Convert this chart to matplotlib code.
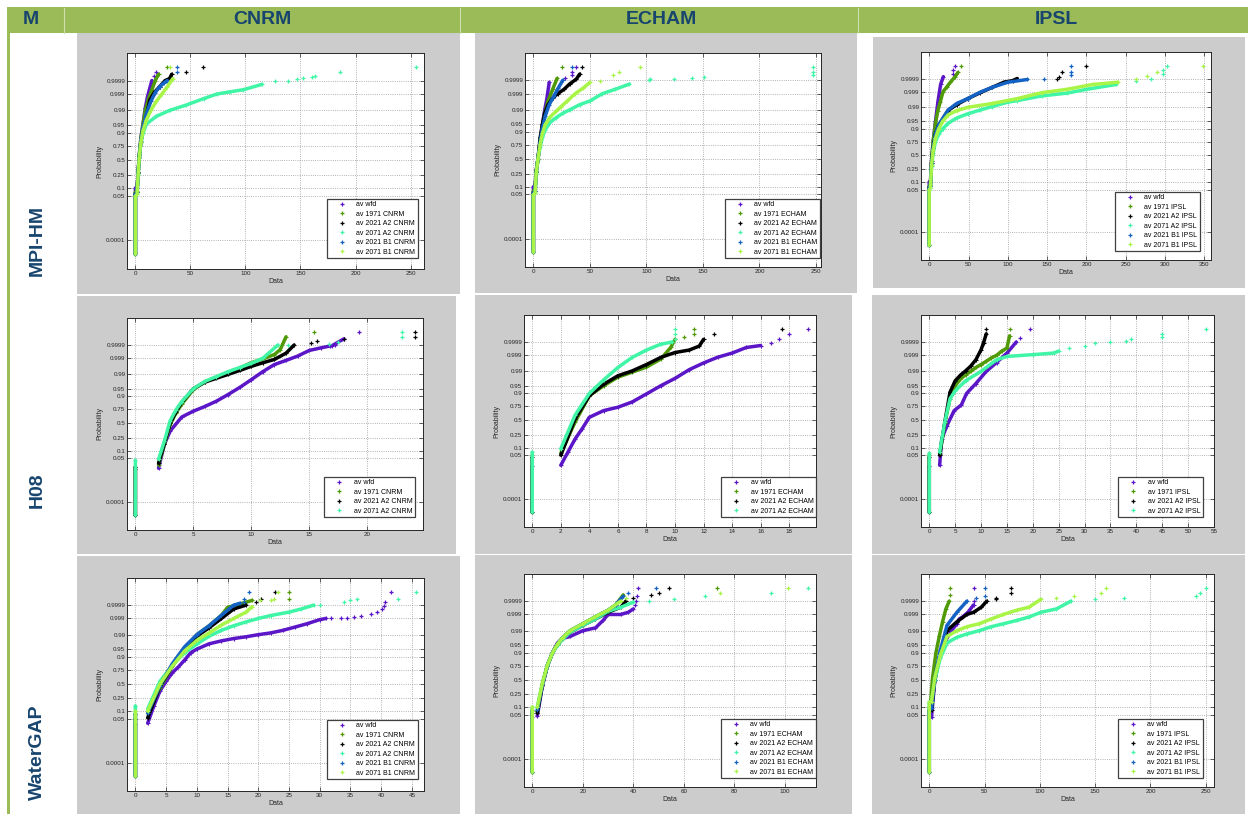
import math
from statistics import NormalDist

import numpy as np
import matplotlib
matplotlib.use("Agg")
import matplotlib.pyplot as plt
from matplotlib.patches import Rectangle
from matplotlib.lines import Line2D
from matplotlib.ticker import MultipleLocator

nan = np.nan

# each series: (x, p, tail_x, tail_p); x/p is drawn as a dense curve (nan splits the
# zero column from the rest), the tail as loose markers
mpihm_cnrm = {
    "wfd": ([0, 0, nan, 1.5, 2.5, 3.5, 5, 7, 9, 11, 13, 15],
            [7e-6, 0.1, nan, 0.1, 0.3, 0.6, 0.85, 0.96, 0.993, 0.9985, 0.9996, 0.9999],
            [17, 19], [0.99996, 0.99998]),
    "1971": ([0, 0, nan, 1.5, 2.5, 3.5, 5, 7, 9, 12, 15, 18, 21],
             [7e-6, 0.07, nan, 0.08, 0.3, 0.6, 0.85, 0.955, 0.99, 0.998, 0.9995, 0.9999, 0.99997],
             [28.5], [0.999993]),
    "2021 A2": ([0, 0, nan, 1.5, 2.5, 3.5, 5, 7, 10, 13, 17, 22, 27, 31, 33],
                [7e-6, 0.06, nan, 0.07, 0.28, 0.55, 0.8, 0.93, 0.98, 0.9975, 0.9992, 0.9997, 0.9999, 0.99993, 0.99997],
                [45.6, 61.7], [0.99998, 0.999993]),
    "2071 A2": ([0, 0, nan, 1.5, 2.5, 3.5, 5, 7, 10, 19, 31, 46, 62, 74, 86, 98, 115],
                [7e-6, 0.05, nan, 0.06, 0.25, 0.55, 0.8, 0.9, 0.955, 0.98, 0.99, 0.995, 0.998, 0.999, 0.9993, 0.9995, 0.9998],
                [127, 138.5, 146.7, 152, 160.4, 163.4, 186, 254.6],
                [0.99989, 0.9999, 0.99992, 0.99994, 0.99995, 0.99996, 0.99998, 0.999993]),
    "2021 B1": ([0, 0, nan, 1.5, 2.5, 3.5, 5, 7, 10, 14, 18, 22, 26, 29],
                [7e-6, 0.06, nan, 0.07, 0.28, 0.56, 0.82, 0.94, 0.985, 0.997, 0.9992, 0.9997, 0.99985, 0.9999],
                [38, 38], [0.99998, 0.999993]),
    "2071 B1": ([0, 0, nan, 1.5, 2.5, 3.5, 5, 7, 10, 14, 19, 24, 29, 34],
                [7e-6, 0.05, nan, 0.06, 0.26, 0.55, 0.8, 0.92, 0.97, 0.99, 0.997, 0.999, 0.9997, 0.99993],
                [31], [0.999993]),
}

mpihm_echam = {
    "wfd": ([0, 0, nan, 1.5, 2.5, 4, 6, 8, 10, 12, 14],
            [7e-6, 0.1, nan, 0.1, 0.3, 0.5, 0.8, 0.95, 0.99, 0.998, 0.99985],
            [28, 34.6, 34.6, 38], [0.99994, 0.99996, 0.99998, 0.999993]),
    "1971": ([0, 0, nan, 1.5, 2.5, 4, 6, 8, 10, 13, 17, 21],
             [7e-6, 0.07, nan, 0.08, 0.3, 0.5, 0.8, 0.94, 0.985, 0.997, 0.9995, 0.99993],
             [25], [0.999993]),
    "2021 A2": ([0, 0, nan, 1.5, 2.5, 4, 6, 8, 10, 13, 17, 21.5, 27, 32, 38, 41],
                [7e-6, 0.06, nan, 0.07, 0.28, 0.5, 0.85, 0.95, 0.985, 0.995, 0.998, 0.999, 0.9995, 0.9998, 0.99992, 0.99997],
                [43.3], [0.999993]),
    "2071 A2": ([0, 0, nan, 1.5, 2.5, 4, 6, 8, 10.5, 15, 20, 26, 32, 41, 50, 61, 72, 85],
                [7e-6, 0.05, nan, 0.06, 0.25, 0.5, 0.72, 0.85, 0.92, 0.96, 0.975, 0.985, 0.99, 0.995, 0.997, 0.999, 0.9995, 0.9998],
                [102, 103, 124, 140, 150.6, 247, 247, 247],
                [0.9999, 0.99992, 0.99992, 0.99994, 0.99995, 0.99996, 0.99998, 0.999993]),
    "2021 B1": ([0, 0, nan, 1.5, 2.5, 4, 6, 8, 10.5, 14, 18, 22, 26],
                [7e-6, 0.06, nan, 0.07, 0.28, 0.5, 0.8, 0.93, 0.98, 0.995, 0.9985, 0.9996, 0.9999],
                [34], [0.999993]),
    "2071 B1": ([0, 0, nan, 1.5, 2.5, 4, 6, 8, 10.5, 15, 20, 24, 30, 37, 44, 50],
                [7e-6, 0.05, nan, 0.06, 0.26, 0.5, 0.76, 0.89, 0.95, 0.978, 0.988, 0.993, 0.997, 0.999, 0.9996, 0.99985],
                [58.7, 70, 76, 94], [0.99988, 0.99996, 0.99998, 0.999993]),
}

mpihm_ipsl = {
    "wfd": ([0, 0, nan, 1.5, 3, 5, 8, 11, 14.5, 18],
            [7e-6, 0.1, nan, 0.1, 0.4, 0.75, 0.95, 0.995, 0.9997, 0.99993],
            [30, 30, 33], [0.99996, 0.99998, 0.999993]),
    "1971": ([0, 0, nan, 1.5, 3, 5, 8, 11, 14, 17.6, 22, 27, 33, 36.5],
             [7e-6, 0.07, nan, 0.08, 0.4, 0.75, 0.94, 0.985, 0.995, 0.999, 0.9995, 0.9998, 0.99993, 0.99997],
             [40], [0.999993]),
    "2021 A2": ([0, 0, nan, 1.5, 3, 5, 8, 12, 17, 24, 35, 49, 65, 80, 95, 106, 112],
                [7e-6, 0.06, nan, 0.07, 0.35, 0.65, 0.85, 0.93, 0.96, 0.985, 0.993, 0.997, 0.9988, 0.9995, 0.9998, 0.99985, 0.9999],
                [162, 165.5, 168.6, 200], [0.9999, 0.99993, 0.99997, 0.999993]),
    "2071 A2": ([0, 0, nan, 1.5, 3, 5, 8, 12, 17, 24, 35, 49, 65, 80, 100, 112, 143.5, 175, 200, 238],
                [7e-6, 0.05, nan, 0.06, 0.3, 0.55, 0.75, 0.85, 0.9, 0.94, 0.965, 0.978, 0.986, 0.991, 0.995, 0.996, 0.998,
                 0.9987, 0.9993, 0.9997],
                [263, 282, 297, 297, 303], [0.99985, 0.9999, 0.99996, 0.99998, 0.999993]),
    "2021 B1": ([0, 0, nan, 1.5, 3, 5, 8, 12, 17, 24, 35, 49, 65, 80, 100, 125],
                [7e-6, 0.06, nan, 0.07, 0.35, 0.65, 0.85, 0.93, 0.962, 0.986, 0.994, 0.997, 0.9989, 0.9995, 0.9998, 0.99988],
                [146.6, 180, 180, 180], [0.9999, 0.99995, 0.99997, 0.999993]),
    "2071 B1": ([0, 0, nan, 1.5, 3, 5, 8, 12, 17, 24, 35, 49, 80, 112, 143, 175, 208, 240],
                [7e-6, 0.05, nan, 0.06, 0.32, 0.6, 0.8, 0.9, 0.95, 0.975, 0.985, 0.99, 0.994, 0.997, 0.9988, 0.9993, 0.9997,
                 0.9998],
                [263, 277, 290, 348], [0.99988, 0.99994, 0.99997, 0.999993]),
}

h08_cnrm = {
    "wfd": ([0, 0, nan, 2, 2.5, 3, 4, 5, 6, 7, 8, 9, 10, 11, 12, 13, 14, 15, 16, 17, 18],
            [7e-6, 0.015, nan, 0.017, 0.16, 0.36, 0.62, 0.72, 0.79, 0.855, 0.915, 0.956, 0.981, 0.993, 0.9974, 0.9986,
             0.9993, 0.99973, 0.99983, 0.99989, 0.99997],
            [16.8, 17.2, 19.3], [0.99987, 0.9999, 0.999993]),
    "1971": ([0, 0, nan, 2, 2.5, 3, 3.5, 4, 5, 6, 7, 8, 9, 10, 11, 12, 12.5, 13],
             [7e-6, 0.02, nan, 0.025, 0.16, 0.48, 0.69, 0.82, 0.946, 0.976, 0.986, 0.992, 0.9957, 0.998, 0.9989, 0.99946,
              0.99977, 0.99998],
             [15.4], [0.999993]),
    "2021 A2": ([0, 0, nan, 2, 2.5, 3, 3.5, 4, 5, 6, 7, 8, 9, 10, 11, 12, 13, 13.7],
                [7e-6, 0.02, nan, 0.03, 0.17, 0.5, 0.71, 0.84, 0.95, 0.975, 0.984, 0.99, 0.994, 0.9966, 0.998, 0.9988,
                 0.99957, 0.9999],
                [15.2, 15.7, 18, 24.1, 24.1], [0.99993, 0.99995, 0.99997, 0.99998, 0.999993]),
    "2071 A2": ([0, 0, nan, 2, 2.5, 3, 3.5, 4, 5, 6, 7, 8, 9, 10, 11, 12.3],
                [7e-6, 0.04, nan, 0.045, 0.2, 0.55, 0.74, 0.85, 0.95, 0.977, 0.987, 0.993, 0.996, 0.9978, 0.999, 0.9999],
                [13.2, 16.7, 17.5, 23.05, 23.05], [0.9999, 0.99991, 0.99994, 0.99998, 0.999993]),
}

h08_echam = {
    "wfd": ([0, 0, nan, 2, 2.5, 3, 3.5, 4, 5, 6, 7, 8, 9, 10, 11, 12, 13, 14, 15, 16],
            [7e-6, 0.015, nan, 0.017, 0.067, 0.19, 0.35, 0.56, 0.68, 0.735, 0.81, 0.896, 0.95, 0.977, 0.992, 0.9968,
             0.99865, 0.9993, 0.99973, 0.99981],
            [16.7, 17.3, 18, 19.3], [0.99989, 0.99994, 0.99998, 0.999993]),
    "1971": ([0, 0, nan, 2, 3, 4, 5, 6, 7, 8, 9, 9.7, 10],
             [7e-6, 0.05, nan, 0.06, 0.47, 0.88, 0.95, 0.98, 0.989, 0.9943, 0.9982, 0.99973, 0.99994],
             [10.6, 11.3, 11.3], [0.99996, 0.99998, 0.999993]),
    "2021 A2": ([0, 0, nan, 2, 3, 4, 5, 6, 7, 8, 9, 10, 11, 11.7, 12],
                [7e-6, 0.04, nan, 0.05, 0.53, 0.88, 0.957, 0.983, 0.9906, 0.996, 0.9986, 0.99936, 0.99958, 0.99979,
                 0.99994],
                [12.7, 17.5], [0.99998, 0.999993]),
    "2071 A2": ([0, 0, nan, 2, 3, 4, 5, 6, 7, 8, 9, 9.8],
                [7e-6, 0.067, nan, 0.09, 0.6, 0.9, 0.973, 0.994, 0.9986, 0.99958, 0.99985, 0.9999],
                [10, 10, 10], [0.99994, 0.99998, 0.999993]),
}

h08_ipsl = {
    "wfd": ([0, 0, nan, 2, 2.4, 3.4, 4.8, 6.2, 7.2, 9, 11, 13, 15, 16.8],
            [7e-6, 0.015, nan, 0.017, 0.19, 0.4, 0.68, 0.77, 0.9, 0.96, 0.99, 0.997, 0.9993, 0.9999],
            [17.5, 19.5], [0.99995, 0.999993]),
    "1971": ([0, 0, nan, 2, 3, 4, 5, 6, 7, 8, 9, 10, 11, 12, 13, 14, 15, 15.5],
             [7e-6, 0.05, nan, 0.055, 0.45, 0.85, 0.95, 0.975, 0.985, 0.99, 0.994, 0.996, 0.9975, 0.9985, 0.999,
              0.9995, 0.9997, 0.99997],
             [15.5], [0.999993]),
    "2021 A2": ([0, 0, nan, 2, 3, 4, 5, 6, 7, 8, 9, 10, 10.5, 11],
                [7e-6, 0.04, nan, 0.05, 0.47, 0.91, 0.97, 0.984, 0.9906, 0.995, 0.998, 0.9996, 0.99989, 0.99998],
                [11], [0.999993]),
    "2071 A2": ([0, 0, nan, 2, 3, 4, 5, 7, 10, 13, 15, 20, 24, 25],
                [7e-6, 0.06, nan, 0.067, 0.47, 0.85, 0.92, 0.97, 0.99, 0.998, 0.9988, 0.9991, 0.9993, 0.9995],
                [27, 30, 32, 35, 38, 39, 45, 45, 53.4],
                [0.9997, 0.99979, 0.99987, 0.9999, 0.99992, 0.99994, 0.99996, 0.99998, 0.999993]),
}

watergap_cnrm = {
    "wfd": ([0, 0, nan, 2, 3, 4, 5, 6, 7, 8, 9, 10, 12, 14, 16, 18, 20, 22, 24, 26, 28, 30, 31],
            [7e-6, 0.03, nan, 0.032, 0.15, 0.37, 0.55, 0.7, 0.79, 0.87, 0.93, 0.95, 0.971, 0.979, 0.984, 0.987, 0.99,
             0.992, 0.9943, 0.9964, 0.9978, 0.9988, 0.999],
            [31.8, 33.4, 34.5, 35.6, 36.7, 38.3, 39.4, 40.2, 40.5, 40.6, 41.6],
            [0.999, 0.999, 0.999, 0.99918, 0.9993, 0.9995, 0.99965, 0.9998, 0.99989, 0.99995, 0.999993]),
    "1971": ([0, 0, nan, 2, 4, 6, 8, 10, 12, 14, 15, 17, 19],
             [7e-6, 0.08, nan, 0.085, 0.43, 0.8, 0.95, 0.99, 0.997, 0.9994, 0.99985, 0.99992, 0.99996],
             [25, 25], [0.99997, 0.999993]),
    "2021 A2": ([0, 0, nan, 2, 4, 6, 8, 10, 12, 14, 16, 18],
                [7e-6, 0.05, nan, 0.055, 0.46, 0.8, 0.95, 0.988, 0.996, 0.999, 0.9998, 0.9999],
                [19.7, 20.5, 22.7], [0.99994, 0.99997, 0.999993]),
    "2071 A2": ([0, 0, nan, 2, 4, 6, 8, 10, 12, 14, 16, 18, 20, 22, 25, 27, 29],
                [7e-6, 0.15, nan, 0.12, 0.55, 0.81, 0.93, 0.97, 0.988, 0.9943, 0.997, 0.9983, 0.999, 0.99938, 0.99965,
                 0.9998, 0.9999],
                [30, 34, 35, 36, 42.8, 45.6], [0.9999, 0.99995, 0.99996, 0.99997, 0.99997, 0.999993]),
    "2021 B1": ([0, 0, nan, 2, 4, 6, 8, 10, 12, 14, 16, 17],
                [7e-6, 0.08, nan, 0.085, 0.47, 0.83, 0.96, 0.99, 0.997, 0.9994, 0.9999, 0.99993],
                [17.7, 17.7, 18.5], [0.99995, 0.99997, 0.999993]),
    "2071 B1": ([0, 0, nan, 2, 4, 6, 8, 10, 12, 14, 16, 18, 19],
                [7e-6, 0.1, nan, 0.1, 0.5, 0.8, 0.94, 0.98, 0.992, 0.9973, 0.999, 0.99965, 0.99987],
                [20.2, 22, 22.5, 23.2], [0.99996, 0.99996, 0.99997, 0.999993]),
}

watergap_echam = {
    "wfd": ([0, 0, nan, 2, 4, 6, 8, 10, 12, 15, 20, 25, 28, 30, 35, 38, 40],
            [7e-6, 0.04, nan, 0.045, 0.39, 0.75, 0.9, 0.96, 0.975, 0.98, 0.99, 0.993, 0.9975, 0.999, 0.999, 0.9993,
             0.9996],
            [40.5, 41, 41.5, 41.7], [0.9998, 0.9999, 0.99996, 0.999993]),
    "1971": ([0, 0, nan, 2, 4, 6, 8, 10, 12, 15, 20, 25, 30, 33, 36],
             [7e-6, 0.07, nan, 0.07, 0.42, 0.76, 0.9, 0.955, 0.977, 0.99, 0.996, 0.9985, 0.9995, 0.9998, 0.99997],
             [73], [0.999993]),
    "2021 A2": ([0, 0, nan, 2, 4, 6, 8, 10, 12, 15, 20, 25, 30, 35, 37],
                [7e-6, 0.06, nan, 0.06, 0.4, 0.75, 0.9, 0.955, 0.975, 0.988, 0.995, 0.998, 0.9993, 0.9997, 0.9999],
                [40, 47, 50, 54], [0.99995, 0.99997, 0.99998, 0.999993]),
    "2071 A2": ([0, 0, nan, 2, 4, 6, 8, 10, 12, 15, 20, 25, 30, 35, 40],
                [7e-6, 0.1, nan, 0.1, 0.43, 0.75, 0.9, 0.95, 0.972, 0.988, 0.995, 0.998, 0.9994, 0.9997, 0.99988],
                [46, 56, 68.5, 94.5, 109], [0.9999, 0.99993, 0.99996, 0.99998, 0.999993]),
    "2021 B1": ([0, 0, nan, 2, 4, 6, 8, 10, 12, 15, 20, 25, 30, 33, 36],
                [7e-6, 0.08, nan, 0.08, 0.42, 0.76, 0.9, 0.955, 0.977, 0.99, 0.996, 0.9986, 0.9995, 0.9998, 0.99996],
                [38, 49], [0.99998, 0.999993]),
    "2071 B1": ([0, 0, nan, 2, 4, 6, 8, 10, 12, 15, 20, 25, 30, 35],
                [7e-6, 0.1, nan, 0.1, 0.44, 0.76, 0.9, 0.955, 0.977, 0.99, 0.996, 0.9986, 0.9995, 0.9999],
                [37, 74.4, 101], [0.99995, 0.99998, 0.999993]),
}

watergap_ipsl = {
    "wfd": ([0, 0, nan, 2, 5, 10, 15, 20, 25, 27, 30, 35, 40],
            [7e-6, 0.04, nan, 0.04, 0.5, 0.9, 0.97, 0.99, 0.996, 0.998, 0.9985, 0.9993, 0.9998],
            [40, 40.5], [0.9999, 0.999993]),
    "1971": ([0, 0, nan, 1, 3, 6, 9, 12, 15, 18],
             [7e-6, 0.1, nan, 0.12, 0.55, 0.9, 0.98, 0.997, 0.9996, 0.9999],
             [19, 19], [0.99997, 0.999993]),
    "2021 A2": ([0, 0, nan, 2, 5, 10, 16, 25, 34, 40, 47, 52],
                [7e-6, 0.07, nan, 0.08, 0.5, 0.9, 0.99, 0.997, 0.999, 0.9993, 0.9997, 0.9999],
                [60, 60, 74, 74], [0.99993, 0.99995, 0.99998, 0.999993]),
    "2071 A2": ([0, 0, nan, 2, 5, 10, 16, 25, 34, 45, 56, 67, 79, 90, 101, 115, 128],
                [7e-6, 0.15, nan, 0.15, 0.5, 0.85, 0.96, 0.978, 0.985, 0.99, 0.994, 0.996, 0.9975, 0.9985, 0.9993,
                 0.9996, 0.9999],
                [150, 176, 241, 245, 250], [0.99993, 0.99994, 0.99996, 0.99998, 0.999993]),
    "2021 B1": ([0, 0, nan, 2, 5, 10, 16, 25, 34],
                [7e-6, 0.08, nan, 0.09, 0.55, 0.92, 0.995, 0.9993, 0.9999],
                [42, 50, 50], [0.99995, 0.99996, 0.999993]),
    "2071 B1": ([0, 0, nan, 2, 5, 10, 16, 25, 34, 45, 56, 67, 79, 90, 101],
                [7e-6, 0.15, nan, 0.15, 0.55, 0.88, 0.98, 0.99, 0.994, 0.996, 0.998, 0.999, 0.9995, 0.9997, 0.99993],
                [115, 131, 155, 160], [0.99995, 0.99996, 0.99998, 0.999993]),
}

MODELS = ["MPI-HM", "H08", "WaterGAP"]
GCMS = ["CNRM", "ECHAM", "IPSL"]
PANELS = [[mpihm_cnrm, mpihm_echam, mpihm_ipsl],
          [h08_cnrm, h08_echam, h08_ipsl],
          [watergap_cnrm, watergap_echam, watergap_ipsl]]
X_STEP = [[50, 50, 50], [5, 2, 5], [5, 20, 50]]

SERIES = ["wfd", "1971", "2021 A2", "2071 A2", "2021 B1", "2071 B1"]
COLORS = {"wfd": "#5b16c8", "1971": "#4f9a06", "2021 A2": "#000000",
          "2071 A2": "#40f5a6", "2021 B1": "#1462c4", "2071 B1": "#a8f548"}

P_TICKS = [0.0001, 0.05, 0.1, 0.25, 0.5, 0.75, 0.9, 0.95, 0.99, 0.999, 0.9999]
P_LABELS = ["0.0001", "0.05", "0.1", "0.25", "0.5", "0.75", "0.9", "0.95", "0.99", "0.999", "0.9999"]

# pixel layout: (left, top, right, bottom)
W, H = 1248, 814
GRAY = [[(77, 33, 460, 294), (475, 33, 857, 293), (873, 37, 1245, 288)],
        [(77, 296, 456, 554), (475, 295, 852, 554), (872, 295, 1245, 554)],
        [(77, 556, 460, 814), (475, 555, 852, 814), (872, 555, 1245, 814)]]
AXES = [[(127, 53, 424, 269), (525, 53, 821, 267), (921, 52, 1211, 260)],
        [(127, 318, 423, 530), (524, 315, 816, 527), (921, 315, 1214, 527)],
        [(127, 578, 424, 791), (524, 574, 816, 787), (921, 574, 1214, 787)]]
# lower-right corner of each legend box
LEGEND = [[(418, 258), (820, 258), (1200, 251)],
          [(415, 517), (816, 517), (1203, 517)],
          [(418, 779), (816, 778), (1203, 778)]]

NAVY = "#17456e"
GREEN = "#9bbb59"
FONT = "Liberation Sans"

_nd = NormalDist()


def _z(v):
    if v != v:
        return nan
    if v <= 0:
        return -40.0
    if v >= 1:
        return 40.0
    return _nd.inv_cdf(v)


to_z = np.vectorize(_z, otypes=[float])
to_p = np.vectorize(_nd.cdf, otypes=[float])

fig = plt.figure(figsize=(W / 100, H / 100), dpi=100)

bg = fig.add_axes([0, 0, 1, 1])
bg.set_xlim(0, W)
bg.set_ylim(H, 0)
bg.axis("off")

# header band and left border
bg.add_patch(Rectangle((8, 7), W - 8, 26, color=GREEN, lw=0))
bg.add_patch(Rectangle((7, 7), 3, H - 7, color=GREEN, lw=0))
for xs in (64, 460, 858):
    bg.plot([xs, xs], [8, 33], color="#cfdfae", lw=0.8)
bg.text(31, 20, "M", ha="center", va="center", fontsize=14, fontweight="bold", color=NAVY, family=FONT)
for cx, name in zip((262, 661, 1056), GCMS):
    bg.text(cx, 20, name, ha="center", va="center", fontsize=14, fontweight="bold", color=NAVY, family=FONT)
for cy, name in zip((240, 490, 752), MODELS):
    bg.text(37, cy, name, ha="center", va="center", rotation=90, fontsize=14, fontweight="bold",
            color=NAVY, family=FONT)

for r in range(3):
    for c in range(3):
        l, t, rr, b = GRAY[r][c]
        bg.add_patch(Rectangle((l, t), rr - l, b - t, color="#cccccc", lw=0))

        data = PANELS[r][c]
        gcm = GCMS[c]
        l, t, rr, b = AXES[r][c]
        ax = fig.add_axes([l / W, 1 - b / H, (rr - l) / W, (b - t) / H])
        ax.set_facecolor("white")
        ax.set_yscale("function", functions=(to_z, to_p))

        handles = []
        for key in SERIES:
            if key not in data:
                continue
            x, p, tx, tp = data[key]
            col = COLORS[key]
            ax.plot(x, p, "-", color=col, lw=2.5, marker="+", ms=3.5, mew=0.8, zorder=3,
                    solid_capstyle="round")
            ax.plot(tx, tp, "+", color=col, ms=3.5, mew=0.9, zorder=3)
            label = "av wfd" if key == "wfd" else f"av {key} {gcm}"
            handles.append(Line2D([], [], ls="none", marker="+", color=col, ms=2.5, mew=0.9, label=label))

        # 3% padding on the data range, as the probability plot does
        xmax = max(np.nanmax(np.r_[v[0], v[2]]) for v in data.values())
        xmin = 0.0
        pad = 0.03 * (xmax - xmin)
        ax.set_xlim(xmin - pad, xmax + pad)
        ax.set_ylim(_nd.cdf(-5.05), _nd.cdf(5.0))
        ax.xaxis.set_major_locator(MultipleLocator(X_STEP[r][c]))
        ax.set_yticks(P_TICKS, labels=P_LABELS)
        ax.yaxis.set_minor_locator(plt.NullLocator())

        ax.grid(True, ls=":", color="#9a9a9a", lw=0.6)
        ax.set_axisbelow(True)
        ax.tick_params(direction="in", top=True, right=True, length=3, width=0.5,
                       labelsize=4.5, pad=1.2, colors="#262626")
        for lab in ax.get_xticklabels() + ax.get_yticklabels():
            lab.set_family(FONT)
        for s in ax.spines.values():
            s.set_color("#262626")
            s.set_linewidth(0.7)
        ax.set_xlabel("Data", fontsize=5, family=FONT, color="#262626", labelpad=1.5)
        ax.set_ylabel("Probability", fontsize=5, family=FONT, color="#262626", labelpad=2)

        lx, ly = LEGEND[r][c]
        leg = ax.legend(handles=handles, loc="lower right", bbox_to_anchor=(lx / W, 1 - ly / H),
                        bbox_transform=fig.transFigure, borderaxespad=0, numpoints=1,
                        prop={"family": FONT, "size": 5}, fancybox=False, framealpha=1,
                        edgecolor="#404040", borderpad=0.35, labelspacing=0.35,
                        handlelength=3.6, handletextpad=0.3)
        leg.get_frame().set_linewidth(0.9)

fig.savefig("out.png", dpi=100)
